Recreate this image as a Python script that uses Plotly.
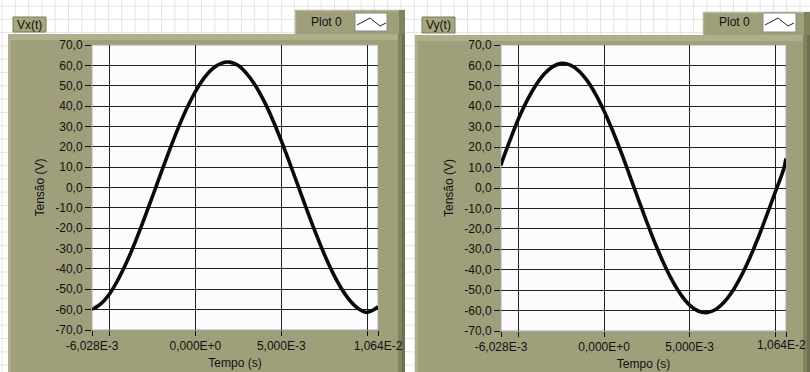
import plotly.graph_objects as go

W, H = 810, 372

# ---------------- data ----------------
t_ms = [-6.028, -6.0, -5.5, -5.0, -4.5, -4.0, -3.5, -3.0, -2.5, -2.0, -1.5, -1.0, -0.5,
        0.0, 0.5, 1.0, 1.5, 2.0, 2.5, 3.0, 3.5, 4.0, 4.5, 5.0, 5.5, 6.0, 6.5, 7.0,
        7.5, 8.0, 8.5, 9.0, 9.5, 10.0, 10.5, 10.64]
vx = [-59.0, -59.5, -57.0, -52.2, -45.1, -36.5, -26.6, -15.7, -4.3, 7.3, 18.6, 29.3, 38.9,
      47.1, 53.7, 58.4, 61.0, 61.6, 59.9, 55.8, 50.0, 42.4, 33.3, 23.0, 11.9, 0.4, -11.1,
      -22.2, -32.6, -41.8, -49.5, -55.5, -59.5, -61.3, -59.5, -58.5]
vy = [11.0, 12.0, 23.4, 34.0, 42.9, 50.2, 55.8, 59.4, 61.0, 60.3, 57.5, 52.7, 46.0,
      37.7, 28.0, 17.4, 6.1, -5.4, -16.7, -27.4, -37.1, -45.5, -52.3, -57.3, -60.2, -61.0,
      -59.6, -56.1, -50.7, -43.4, -34.6, -24.6, -13.7, -2.3, 9.2, 14.5]

x_range = [-6.028e-3, 1.064e-2]
x_tickvals = [-6.028e-3, -5e-3, 0.0, 5e-3, 1e-2, 1.064e-2]
x_ticktext = ["-6,028E-3", "", "0,000E+0", "5,000E-3", "", "1,064E-2"]
x_gridvals = [-5e-3, 0.0, 5e-3, 1e-2]
y_tickvals = [70, 60, 50, 40, 30, 20, 10, 0, -10, -20, -30, -40, -50, -60, -70]
y_ticktext = ["70,0", "60,0", "50,0", "40,0", "30,0", "20,0", "10,0", "0,0", "-10,0",
              "-20,0", "-30,0", "-40,0", "-50,0", "-60,0", "-70,0"]
y_gridvals = [60, 50, 40, 30, 20, 10, 0, -10, -20, -30, -40, -50, -60]
titles = ["Vx(t)", "Vy(t)"]
legend_name = "Plot 0"

t_s = [v * 1e-3 for v in t_ms]

# ---------------- helpers ----------------
def X(p):
    return p / W

def Y(p):
    return 1 - p / H

shapes = []

def rect(x0, y0, x1, y1, fill, line=None, lw=0):
    shapes.append(dict(type="rect", xref="paper", yref="paper", layer="below",
                       x0=X(x0), x1=X(x1), y0=Y(y1), y1=Y(y0), fillcolor=fill,
                       line=dict(color=line or fill, width=lw)))

def hline(y, x0, x1, color, w=1):
    shapes.append(dict(type="line", xref="paper", yref="paper", layer="below",
                       x0=X(x0), x1=X(x1), y0=Y(y), y1=Y(y), line=dict(color=color, width=w)))

def vline(x, y0, y1, color, w=1):
    shapes.append(dict(type="line", xref="paper", yref="paper", layer="below",
                       x0=X(x), x1=X(x), y0=Y(y0), y1=Y(y1), line=dict(color=color, width=w)))

# front-panel background grid
step = 13.3
g = 2.0
while g < W:
    vline(g, 0, H, "#e4e4e4", 1)
    g += step
g = 6.0
while g < H:
    hline(g, 0, W, "#e4e4e4", 1)
    g += step

PANEL = "#a09f7b"
LIGHT = "#b8b795"
DARK = "#83825f"
FONT = "Liberation Sans, Arial"

panels = [
    dict(px0=8, px1=405, py0=34, tab=(295, 10), title=(13, 46, 17, 32),
         plot=(92, 378, 45, 330), glyph=(355, 387, 13, 31), label_x=326),
    dict(px0=415, px1=810, py0=35, tab=(703, 12), title=(422, 455, 17, 33),
         plot=(501, 786, 45, 331), glyph=(763, 796, 13, 32), label_x=734),
]

annotations = []

def label(px, py, text, **kw):
    annotations.append(dict(x=X(px), y=Y(py), xref="paper", yref="paper", text=text,
                            showarrow=False, xanchor="center", yanchor="middle",
                            font=dict(family=FONT, size=12, color="#111111"), **kw))

for i, p in enumerate(panels):
    # legend tab
    tx, ty = p["tab"]
    rect(tx, ty, p["px1"], p["py0"] + 2, PANEL)
    hline(ty + 0.5, tx, p["px1"], LIGHT, 1.5)
    vline(tx + 0.5, ty, p["py0"], LIGHT, 1.5)
    rect(p["px1"] - 6, ty, p["px1"], p["py0"], DARK)
    # main panel
    rect(p["px0"], p["py0"], p["px1"], H, PANEL)
    rect(p["px0"], p["py0"], p["px1"], p["py0"] + 6, "#b0af8c")
    rect(p["px0"], p["py0"], p["px0"] + 3, H, "#aeae8a")
    rect(p["px1"] - 7, p["py0"], p["px1"], H, DARK)
    rect(p["px1"] - 3, p["py0"], p["px1"], H, "#6f6e50")
    # title box
    a, b, c, d = p["title"]
    rect(a, c, b, d, "#a7a680", "#7d7c5c", 1)
    label((a + b) / 2, (c + d) / 2, titles[i])
    # legend label and glyph box
    label(p["label_x"], 22, legend_name)
    ga, gb, gc, gd = p["glyph"]
    rect(ga, gc, gb, gd, "#ffffff", "#8a8a8a", 1)
    pts = [(ga + 2, 25), (ga + 15, 18), (ga + 25, 26), (ga + 31, 23)]
    path = "M " + " L ".join(f"{X(x):.5f},{Y(y):.5f}" for x, y in pts)
    shapes.append(dict(type="path", xref="paper", yref="paper", layer="below",
                       path=path, line=dict(color="#222222", width=1)))
    # plot area
    l, r, t, bt = p["plot"]
    rect(l, t, r, bt, "#fcfcfc", "#a8a8a8", 1)

fig = go.Figure()

tickfont = dict(family=FONT, size=12, color="#111111")
titlefont = dict(family=FONT, size=12, color="#111111")

for i, (vals, p) in enumerate(zip([vx, vy], panels)):
    xa = "x" if i == 0 else "x2"
    ya = "y" if i == 0 else "y2"
    fig.add_trace(go.Scatter(x=t_s, y=vals, mode="lines", xaxis=xa, yaxis=ya,
                             line=dict(color="#0a0a0a", width=3.6, shape="spline"),
                             showlegend=False, hoverinfo="skip"))
    l, r, t, bt = p["plot"]
    xkey = "xaxis" if i == 0 else "xaxis2"
    ykey = "yaxis" if i == 0 else "yaxis2"
    ttext = list(x_ticktext)
    if i == 1:
        # last label is nudged inward (annotation), as in the reference
        ttext[-1] = ""
        annotations.append(dict(x=x_tickvals[-1], y=Y(345), xref=xa, yref="paper",
                                text=x_ticktext[-1], showarrow=False, xanchor="center",
                                yanchor="middle", xshift=-5,
                                font=dict(family=FONT, size=12, color="#111111")))
    fig.update_layout(**{
        xkey: dict(domain=[X(l), X(r)], range=x_range, anchor=ya, automargin=False,
                   tickmode="array", tickvals=x_tickvals, ticktext=ttext,
                   ticks="outside", ticklen=5, tickcolor="#111111", tickwidth=1,
                   showgrid=False, zeroline=False, showline=False,
                   tickfont=tickfont, ticklabeloverflow="allow",
                   title=dict(text="Tempo (s)", font=titlefont, standoff=6),
                   minor=dict(tickmode="array", tickvals=x_gridvals, showgrid=True,
                              gridcolor="#222222", gridwidth=1.4, ticks=""),
                   fixedrange=True),
        ykey: dict(domain=[Y(bt), Y(t)], range=[-70, 70], anchor=xa, automargin=False,
                   tickmode="array", tickvals=y_tickvals, ticktext=y_ticktext,
                   ticks="outside", ticklen=6, tickcolor="#111111", tickwidth=1,
                   showgrid=False, zeroline=False, showline=False,
                   tickfont=tickfont, ticklabeloverflow="allow",
                   title=dict(text="Tensão (V)", font=titlefont, standoff=8),
                   minor=dict(tickmode="array", tickvals=y_gridvals, showgrid=True,
                              gridcolor="#222222", gridwidth=1.4, ticks=""),
                   fixedrange=True),
    })

fig.update_layout(width=W, height=H, margin=dict(l=0, r=0, t=0, b=0, autoexpand=False),
                  paper_bgcolor="#ffffff", plot_bgcolor="rgba(0,0,0,0)",
                  shapes=shapes, annotations=annotations, showlegend=False)

fig.write_html("out.html", config={"displayModeBar": False},
               post_script="document.body.style.margin='0';document.body.style.overflow='hidden';")
